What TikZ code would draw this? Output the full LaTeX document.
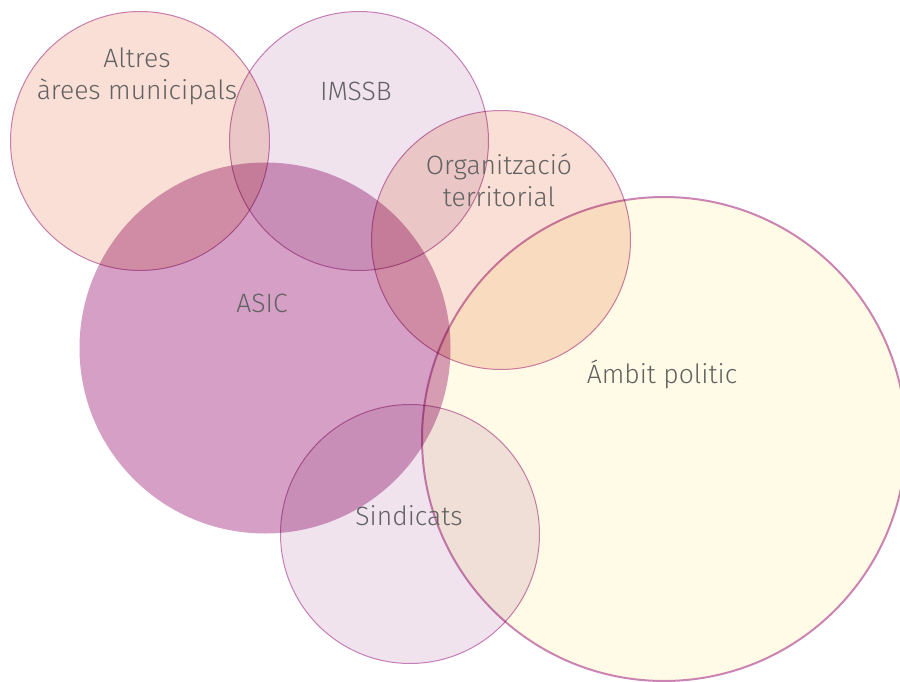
\documentclass[tikz,border=0pt]{standalone}
\usepackage{fontspec}
\setmainfont{Fira Sans Light}
\usepackage{tikz}
\usetikzlibrary{shapes,backgrounds}

\definecolor{setline}{HTML}{CB86BD}
\definecolor{peach}{HTML}{F9DFD5}
\definecolor{lilac}{HTML}{F0E3EE}
\definecolor{mauve}{HTML}{D6A0C6}
\definecolor{cream}{HTML}{FFFBE6}
\definecolor{labelgray}{HTML}{626262}

\begin{document}
\begin{tikzpicture}[x=1pt,y=-1pt]
  \tikzstyle{set}=[circle,draw=setline,line width=1pt,inner sep=0pt,
                   minimum size=259pt]
  \tikzstyle{big set}=[set,line width=2pt,minimum size=484pt]
  \tikzstyle{set title}=[text=labelgray,align=center,
                    font=\fontsize{26.5}{32}\selectfont]

  \useasboundingbox (0,0) rectangle (900,682);
  \clip (0,0) rectangle (900,682);

  \begin{scope}[blend mode=multiply]
    \node [set,fill=peach] (altres) at (140,141) {};
    \node [set,fill=lilac] (imssb) at (359,141) {};
    \node [set,fill=mauve,draw=none,minimum size=371pt] (asic) at (265,348) {};
    \node [set,fill=peach] (org) at (501,240) {};
    \node [big set,fill=cream] (ambit) at (664,439) {};
    \node [set,fill=lilac] (sind) at (410,534) {};
  \end{scope}

  \node [set title] (t-altres) at (137,76) {Altres\\àrees municipals};
  \node [set title] (t-imssb) at (356,91) {IMSSB};
  \node [set title] (t-org) at (499,180) {Organització\\territorial};
  \node [set title] (t-asic) at (262,303) {ASIC};
  \node [set title] (t-ambit) at (662,374) {Ámbit politic};
  \node [set title] (t-sind) at (409,516) {Sindicats};

\end{tikzpicture}
\end{document}
